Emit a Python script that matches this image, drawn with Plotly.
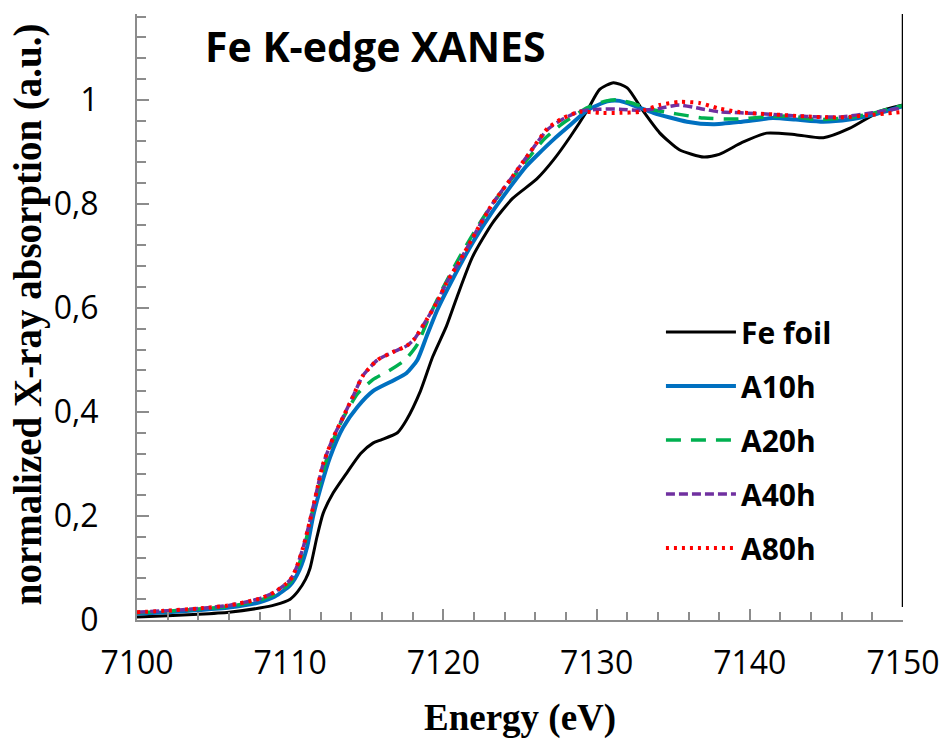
import plotly.graph_objects as go

# ---------------- data ----------------
e_fe = [7100, 7102, 7104, 7106, 7108, 7109, 7110, 7110.5, 7111, 7111.3, 7111.75, 7112.15,
        7112.8, 7113.7, 7114.6, 7115.4, 7115.9, 7117, 7117.6, 7118.5, 7119.3, 7120.2,
        7120.9, 7121.9, 7123.2, 7124.5, 7126.1, 7127.2, 7128.3, 7129.4, 7130.2, 7131.1,
        7132, 7133, 7134.1, 7135.4, 7137, 7138, 7139.5, 7141.1, 7143, 7144.8, 7146.5,
        7148.5, 7150]
mu_fe = [0.006, 0.008, 0.011, 0.015, 0.023, 0.029, 0.040, 0.055, 0.078, 0.10, 0.16, 0.205,
         0.244, 0.283, 0.32, 0.34, 0.346, 0.36, 0.385, 0.44, 0.506, 0.565,
         0.622, 0.698, 0.763, 0.81, 0.848, 0.885, 0.93, 0.98, 1.02, 1.033,
         1.023, 0.98, 0.937, 0.904, 0.89, 0.895, 0.918, 0.936, 0.933, 0.927, 0.945,
         0.978, 0.99]

e_a10 = [7100, 7102, 7104, 7106, 7108, 7109, 7110, 7110.6, 7111.1, 7111.5, 7112, 7112.6,
         7113.45, 7114.4, 7115.4, 7116.7, 7117.6, 7118.3, 7118.9, 7119.6, 7120.6, 7121.9,
         7123.2, 7124.5, 7125.4, 7126.1, 7127.2, 7128.3, 7129.4, 7130.7, 7131.5, 7132.6,
         7133.7, 7135.9, 7137.6, 7139.5, 7141.5, 7143, 7144.8, 7146.5, 7148, 7150]
mu_a10 = [0.012, 0.015, 0.019, 0.024, 0.034, 0.045, 0.067, 0.096, 0.14, 0.20, 0.256, 0.313,
          0.37, 0.41, 0.44, 0.46, 0.475, 0.50, 0.545, 0.596, 0.655, 0.725,
          0.785, 0.838, 0.872, 0.893, 0.924, 0.952, 0.98, 0.997, 0.998, 0.987,
          0.975, 0.958, 0.953, 0.958, 0.965, 0.962, 0.958, 0.962, 0.971, 0.988]

e_a20 = [7100, 7102, 7104, 7106, 7108, 7109, 7110, 7110.5, 7111, 7111.5, 7112, 7112.6,
         7113.4, 7114.4, 7115.4, 7116.5, 7117.5, 7118.3, 7119.1, 7120, 7121.1, 7122.2,
         7123.2, 7124.5, 7125.6, 7126.6, 7127.8, 7129.4, 7130.5, 7131.3, 7132.3, 7133.5,
         7135.2, 7137, 7139, 7141, 7142.5, 7144.5, 7146.5, 7148, 7149.2, 7150]
mu_a20 = [0.014, 0.017, 0.021, 0.026, 0.038, 0.05, 0.072, 0.10, 0.15, 0.215, 0.27, 0.33,
          0.385, 0.435, 0.462, 0.48, 0.50, 0.53, 0.585, 0.64, 0.70, 0.755,
          0.80, 0.85, 0.89, 0.925, 0.955, 0.985, 0.997, 1.0, 0.994, 0.982,
          0.973, 0.965, 0.963, 0.967, 0.969, 0.962, 0.966, 0.974, 0.984, 0.989]

e_a40 = [7100, 7102, 7104, 7106, 7108, 7109, 7110, 7110.4, 7110.85, 7111.3, 7111.75, 7112.15,
         7112.8, 7113.45, 7114.1, 7114.75, 7115.7, 7116.7, 7117.6, 7118.1, 7118.9, 7119.6,
         7120.2, 7121.1, 7122.2, 7123.2, 7124.5, 7125.6, 7126.8, 7127.8, 7128.9, 7130.2,
         7131.5, 7132.8, 7134, 7135.4, 7136.8, 7138, 7139.4, 7141.5, 7143.7, 7145.9,
         7148, 7150]
mu_a40 = [0.015, 0.018, 0.022, 0.028, 0.041, 0.054, 0.077, 0.10, 0.14, 0.192, 0.25, 0.30,
          0.35, 0.39, 0.43, 0.47, 0.50, 0.515, 0.527, 0.54, 0.577, 0.612,
          0.648, 0.692, 0.75, 0.80, 0.852, 0.897, 0.943, 0.963, 0.978, 0.982,
          0.982, 0.98, 0.983, 0.99, 0.983, 0.977, 0.975, 0.972, 0.968, 0.967,
          0.975, 0.985]

e_a80 = [7100, 7102, 7104, 7106, 7108, 7109, 7110, 7110.4, 7110.85, 7111.3, 7111.75, 7112.15,
         7112.8, 7113.45, 7114.1, 7114.75, 7115.7, 7116.7, 7117.6, 7118.1, 7118.9, 7119.6,
         7120.2, 7121.1, 7122.2, 7123.2, 7124.5, 7125.6, 7126.8, 7127.8, 7128.9, 7130.2,
         7131.5, 7132.8, 7134.1, 7135.4, 7136.7, 7137.9, 7139.4, 7141.5, 7143.7, 7145.9,
         7148, 7150]
mu_a80 = [0.015, 0.018, 0.022, 0.028, 0.041, 0.054, 0.077, 0.10, 0.14, 0.192, 0.25, 0.30,
          0.35, 0.39, 0.43, 0.47, 0.50, 0.515, 0.527, 0.54, 0.577, 0.612,
          0.648, 0.692, 0.75, 0.80, 0.852, 0.897, 0.945, 0.965, 0.977, 0.975,
          0.975, 0.977, 0.99, 0.996, 0.994, 0.984, 0.976, 0.972, 0.968, 0.966,
          0.971, 0.977]

series_names = ["Fe foil", "A10h", "A20h", "A40h", "A80h"]
x_range = [7100, 7150]
y_range = [0, 1.165]

# ---------------- figure ----------------
SANS = "Open Sans"
SERIF = "Liberation Serif"
AXIS_GRAY = "#8c8c8c"

styles = [
    dict(color="#000000", width=3, dash="solid"),
    dict(color="#0070C0", width=4, dash="solid"),
    dict(color="#00B050", width=3.5, dash="15px,10px"),
    dict(color="#7030A0", width=3.5, dash="9px,4px"),
    dict(color="#FF0000", width=4, dash="3px,5px"),
]
xs = [e_fe, e_a10, e_a20, e_a40, e_a80]
ys = [mu_fe, mu_a10, mu_a20, mu_a40, mu_a80]

fig = go.Figure()
for name, x, y, st in zip(series_names, xs, ys, styles):
    fig.add_trace(go.Scatter(
        x=x, y=y, mode="lines", name=name, legendgroup=name,
        line=dict(color=st["color"], width=st["width"], dash=st["dash"],
                  shape="spline", smoothing=0.6),
    ))

fig.update_layout(
    width=944, height=740,
    margin=dict(l=137, r=41, t=14, b=120, autoexpand=False),
    paper_bgcolor="white", plot_bgcolor="white",
    separators=", ",
    showlegend=True,
    legend=dict(
        x=0.684, y=0.297, xanchor="left", yanchor="middle",
        font=dict(family=SANS, size=30, color="black", weight="bold"),
        itemwidth=70, tracegroupgap=12, bgcolor="rgba(0,0,0,0)",
    ),
)

fig.update_xaxes(
    range=x_range, showgrid=False, zeroline=False, automargin=False,
    showline=True, linecolor=AXIS_GRAY, linewidth=2,
    ticks="inside", ticklen=11, tickwidth=2, tickcolor=AXIS_GRAY,
    dtick=10, tick0=7100,
    tickfont=dict(family=SANS, size=32, color="black"),
    ticklabelstandoff=14,
    minor=dict(ticks="inside", ticklen=8, tickwidth=2, tickcolor=AXIS_GRAY, dtick=2, showgrid=False),
)
fig.update_yaxes(
    range=y_range, showgrid=False, zeroline=False, automargin=False,
    showline=True, linecolor=AXIS_GRAY, linewidth=2,
    ticks="inside", ticklen=12, tickwidth=2, tickcolor=AXIS_GRAY,
    dtick=0.2, tick0=0,
    tickfont=dict(family=SANS, size=32, color="black"),
    ticklabelstandoff=30,
    minor=dict(ticks="inside", ticklen=9, tickwidth=2, tickcolor=AXIS_GRAY, dtick=0.04, showgrid=False),
)

# right-hand vertical border line of the original chart
fig.add_shape(type="line", xref="x", yref="y", x0=x_range[1], x1=x_range[1],
              y0=0.025, y1=y_range[1], line=dict(color="black", width=2.5))

fig.add_annotation(text="Fe K-edge XANES", xref="paper", yref="paper",
                   x=0.312, y=0.948, xanchor="center", yanchor="middle", showarrow=False,
                   font=dict(family=SANS, size=41, color="black", weight="bold"))
fig.add_annotation(text="normalized X-ray absorption (a.u.)", xref="paper", yref="paper",
                   x=-0.142, y=0.505, xanchor="center", yanchor="middle", showarrow=False,
                   textangle=-90,
                   font=dict(family=SERIF, size=39, color="black", weight="bold"))
fig.add_annotation(text="Energy (eV)", xref="paper", yref="paper",
                   x=0.5, y=-0.162, xanchor="center", yanchor="middle", showarrow=False,
                   font=dict(family=SERIF, size=37, color="black", weight="bold"))

fig.write_html("out.html")
